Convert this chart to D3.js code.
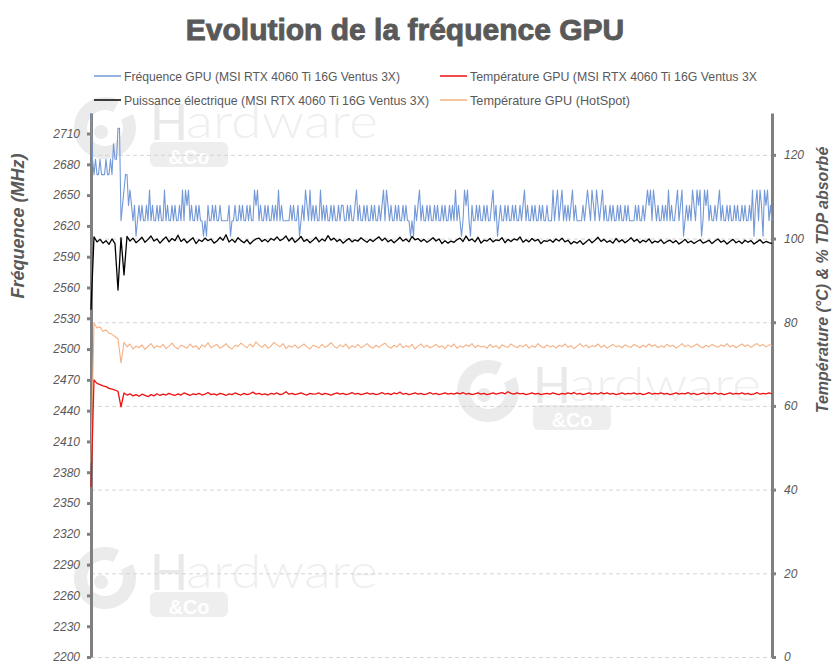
<!DOCTYPE html>
<html>
<head>
<meta charset="utf-8">
<script src="https://cdn.jsdelivr.net/npm/d3@7"></script>
<style>
  html, body { margin: 0; padding: 0; background: #fff; }
  svg { display: block; }
</style>
</head>
<body>
<svg id="chart" width="836" height="670"></svg>
<script>
// ---------------- DATA ----------------
const chartTitle = "Evolution de la fréquence GPU";
const leftAxisTitle = "Fréquence (MHz)";
const rightAxisTitle = "Température (°C) & % TDP absorbé";

const seriesNames = [
  "Fréquence GPU (MSI RTX 4060 Ti 16G Ventus 3X)",
  "Température GPU (MSI RTX 4060 Ti 16G Ventus 3X",
  "Puissance électrique (MSI RTX 4060 Ti 16G Ventus 3X)",
  "Température GPU (HotSpot)"
];

const leftTicks = [2200,2230,2260,2290,2320,2350,2380,2410,2440,2470,2500,2530,2560,2590,2620,2650,2680,2710];
const rightTicks = [0,20,40,60,80,100,120];

// Fréquence GPU (MHz) - left axis (sampled twice as often as the other series)
const freqGPU = [
  2730,2685,2670,2685,2670,2670,2685,2670,2670,2670,2685,2670,2670,2685,2670,2700,
  2685,2685,2715,2715,2625,2640,2655,2670,2670,2640,2655,2640,2625,2640,2610,2625,
  2640,2625,2640,2625,2625,2640,2625,2655,2625,2640,2625,2625,2640,2625,2640,2625,
  2625,2655,2625,2640,2625,2625,2640,2625,2640,2625,2625,2640,2625,2655,2625,2655,
  2640,2655,2625,2640,2625,2625,2640,2625,2640,2625,2625,2610,2625,2610,2640,2625,
  2625,2640,2625,2640,2625,2625,2640,2625,2625,2625,2625,2625,2640,2610,2625,2625,
  2640,2625,2625,2640,2625,2640,2625,2625,2640,2625,2640,2625,2625,2655,2640,2655,
  2625,2640,2625,2625,2640,2625,2640,2625,2625,2640,2625,2640,2625,2655,2625,2640,
  2625,2625,2625,2625,2625,2640,2625,2640,2625,2625,2640,2610,2625,2640,2625,2655,
  2640,2625,2655,2625,2640,2625,2640,2625,2625,2655,2625,2640,2625,2640,2625,2625,
  2640,2625,2640,2625,2625,2640,2625,2640,2640,2625,2625,2640,2625,2640,2625,2625,
  2640,2655,2625,2640,2625,2625,2640,2625,2640,2625,2625,2640,2625,2640,2625,2625,
  2640,2625,2640,2655,2625,2655,2640,2625,2640,2625,2625,2640,2625,2640,2625,2625,
  2640,2625,2640,2625,2625,2610,2625,2610,2640,2625,2640,2655,2625,2640,2625,2625,
  2640,2625,2640,2625,2625,2640,2625,2640,2625,2625,2640,2625,2640,2625,2625,2640,
  2625,2640,2625,2655,2625,2640,2625,2610,2625,2655,2640,2655,2625,2610,2640,2625,
  2625,2640,2625,2640,2625,2625,2640,2625,2640,2625,2625,2640,2655,2625,2640,2610,
  2625,2640,2625,2625,2640,2625,2640,2625,2625,2640,2625,2640,2625,2625,2640,2625,
  2640,2655,2625,2640,2625,2625,2640,2625,2640,2625,2625,2640,2625,2640,2625,2625,
  2640,2625,2625,2625,2655,2625,2640,2655,2625,2640,2655,2625,2640,2625,2640,2625,
  2640,2655,2625,2640,2625,2625,2625,2625,2640,2625,2640,2655,2640,2625,2655,2640,
  2625,2655,2640,2625,2640,2655,2625,2640,2625,2625,2640,2625,2640,2625,2625,2640,
  2625,2640,2625,2625,2640,2625,2640,2625,2625,2625,2625,2640,2625,2640,2625,2625,
  2640,2625,2640,2655,2640,2655,2625,2655,2640,2625,2640,2625,2625,2640,2625,2640,
  2625,2655,2625,2640,2625,2625,2640,2655,2625,2640,2655,2610,2625,2640,2625,2640,
  2625,2655,2640,2625,2655,2640,2655,2610,2625,2655,2640,2655,2625,2640,2625,2625,
  2640,2625,2640,2655,2625,2640,2625,2625,2640,2625,2640,2625,2625,2640,2625,2640,
  2625,2625,2640,2625,2640,2625,2625,2640,2625,2655,2610,2640,2655,2625,2655,2640,
  2610,2655,2640,2655,2625,2640,2625
];

// Température GPU (°C) - right axis
const tempGPU = [
  40.6,66.2,65.4,65.1,64.8,64.6,64.2,64.0,63.8,63.5,59.8,63.1,
  62.6,62.9,62.4,62.7,62.3,62.8,62.5,62.2,62.7,62.4,62.9,62.5,
  62.8,62.6,63.0,62.7,62.5,62.9,62.6,63.1,62.8,62.5,62.9,62.7,
  63.0,62.6,62.8,63.2,62.7,62.9,62.6,63.0,62.8,62.5,62.9,62.7,
  63.1,62.8,62.6,63.0,62.7,62.9,63.3,62.8,63.0,62.7,62.9,62.6,
  63.0,62.8,63.1,62.7,62.9,63.4,62.8,63.0,62.7,62.9,63.1,62.8,
  62.6,63.0,62.8,62.9,63.1,62.7,63.0,62.8,62.6,62.9,63.1,62.8,
  63.0,62.7,62.9,63.2,62.8,63.0,62.7,62.9,63.1,62.8,63.0,62.7,
  62.9,63.2,62.8,63.0,62.7,63.1,62.9,63.3,62.8,63.0,62.7,62.9,
  63.1,62.8,63.0,62.7,62.9,63.2,62.8,63.0,62.7,62.9,63.1,62.8,
  63.0,62.8,63.1,62.9,63.2,62.8,63.0,62.7,62.9,63.1,62.8,63.0,
  62.7,62.9,63.1,62.8,63.0,63.2,62.9,63.4,63.0,62.8,63.1,62.9,
  63.0,62.7,62.9,63.1,62.8,63.0,62.7,62.9,63.0,62.8,63.1,62.9,
  62.7,63.0,62.8,63.1,62.9,63.2,62.8,63.0,62.7,62.9,63.1,62.8,
  63.0,62.8,63.2,62.9,63.1,62.8,63.0,62.7,62.9,63.1,62.8,63.0,
  62.9,63.1,62.8,63.0,62.7,62.9,63.2,62.8,63.0,62.9,63.1,62.8,
  63.0,62.7,62.9,63.1,62.8,63.0,62.9,63.2,62.8,63.0,62.7,62.9,
  63.1,62.8,63.0,62.9,63.2,62.8,63.0,62.7,62.9,63.1,62.8,63.0,
  62.9,63.1,62.8,63.0,62.7,62.9,63.2,62.8,63.0,62.9,63.1,62.9
];

// Puissance électrique (% TDP) - right axis
const powerTDP = [
  83.0,100.4,99.2,99.8,98.9,99.5,98.6,99.9,98.8,87.7,100.2,91.3,
  100.5,99.4,100.1,99.0,99.6,100.3,99.1,99.8,100.6,99.4,99.9,98.9,
  99.7,100.4,99.2,100.0,99.5,100.8,99.3,99.9,99.0,99.6,100.2,98.8,
  99.7,99.3,100.1,99.5,99.9,98.9,99.4,100.3,99.6,100.9,99.2,99.8,
  99.1,100.2,99.5,99.0,99.7,98.7,99.4,99.9,100.1,99.3,99.8,99.2,
  100.0,99.6,100.4,99.5,99.9,100.6,99.4,100.2,99.1,99.7,100.5,99.3,
  99.8,99.0,99.6,100.3,99.2,99.9,99.4,100.7,99.6,100.1,99.3,99.8,
  98.9,99.5,100.0,99.2,99.7,99.4,100.2,99.6,99.1,99.8,99.3,99.9,
  100.4,99.5,100.1,99.2,99.7,99.0,99.6,100.3,99.4,99.9,99.2,100.5,
  99.7,100.0,99.3,99.8,99.1,99.6,100.2,99.4,99.9,98.8,99.5,98.9,
  99.4,99.1,99.7,100.1,99.3,100.6,99.5,99.9,99.2,100.3,98.9,99.6,
  99.4,100.0,99.2,99.7,99.5,100.2,99.0,99.8,99.3,99.9,99.6,100.4,
  99.1,99.7,99.2,100.0,99.4,99.8,98.8,99.5,99.3,99.7,99.1,99.9,
  99.4,100.1,99.2,99.6,98.7,99.3,98.9,99.5,98.6,99.2,99.8,99.0,
  99.6,100.3,99.3,99.8,99.1,99.5,98.9,100.0,99.2,99.7,99.0,99.5,
  100.2,99.3,99.8,99.0,99.6,99.2,99.9,98.9,99.4,99.1,99.7,98.8,
  99.3,99.6,99.0,99.5,98.7,99.2,99.8,99.0,99.4,98.8,99.3,99.7,
  98.9,99.2,99.6,98.8,99.4,99.9,99.1,99.5,98.7,99.3,99.8,99.0,
  99.4,98.8,99.6,99.1,99.5,98.7,99.2,99.7,98.9,99.3,99.0,98.8
];

// Température GPU HotSpot (°C) - right axis
const tempHotSpot = [
  46.4,79.8,78.6,78.9,77.8,78.2,77.4,77.1,76.6,76.0,70.3,75.2,
  74.1,74.8,73.6,74.3,73.9,74.6,73.5,74.2,74.9,73.8,74.4,74.0,
  74.7,73.7,74.3,75.0,74.1,73.6,74.5,74.2,73.8,74.8,74.0,74.4,
  73.5,74.6,74.1,75.1,73.9,74.3,74.7,73.8,74.2,74.9,74.0,73.6,
  74.5,74.2,75.0,74.4,73.9,74.8,74.1,75.3,74.5,74.0,74.7,73.8,
  74.3,75.2,74.6,74.1,74.9,73.7,74.4,74.0,74.6,73.8,74.3,74.8,
  74.1,73.6,74.5,74.2,73.9,74.7,74.0,74.4,75.1,74.3,73.8,74.6,
  74.1,74.8,73.7,74.4,74.0,74.7,73.9,74.3,74.9,74.2,73.8,74.5,
  74.0,74.6,75.0,74.2,73.8,74.5,74.1,74.9,73.9,74.4,74.0,74.7,
  73.6,74.3,74.8,74.0,74.5,73.9,74.2,74.7,74.0,74.4,73.7,74.6,
  74.1,74.8,73.8,74.3,74.0,74.6,74.2,74.9,73.9,74.5,74.1,74.3,
  73.8,74.7,74.0,74.4,73.7,74.6,74.2,74.0,74.8,74.3,73.9,74.5,
  74.1,74.7,73.8,74.4,74.0,74.9,74.2,73.9,74.6,74.1,74.4,73.8,
  74.5,74.2,74.8,74.0,74.4,73.7,74.3,74.9,74.1,74.6,73.9,74.4,
  74.2,74.8,74.0,74.5,73.8,74.3,74.7,74.1,74.4,73.9,74.6,74.2,
  74.0,74.7,74.3,73.9,74.5,74.1,74.8,74.2,74.6,73.9,74.4,74.0,
  74.7,74.2,74.5,73.8,74.3,74.9,74.1,74.6,74.0,74.4,74.8,74.2,
  73.9,74.5,74.1,74.7,74.3,74.0,74.6,74.2,74.9,74.1,74.5,73.9,
  74.4,74.8,74.2,74.6,74.0,74.5,74.9,74.3,74.7,74.1,74.6,74.4
];

// ---------------- CHART ----------------
const svg = d3.select("#chart");
const W = 836, H = 670;
const plot = { left: 91, right: 772, top: 113, bottom: 657 };
const textGray = "#595959";
const axisGray = "#808080";

svg.append("rect").attr("width", W).attr("height", H).attr("fill", "#fff");

// time position (0 = start, 1 = end of the run), each series spread over the whole run
const x = d3.scaleLinear().domain([0, 1]).range([plot.left, plot.right]);
const yL = d3.scaleLinear().domain([2200, 2730]).range([plot.bottom, plot.top]);
const yR = d3.scaleLinear().domain([0, 130]).range([plot.bottom, plot.top]);

// watermark logos (background decoration)
function logo(hx, base) {
  const g = svg.append("g").attr("class", "watermark");
  const cx = hx - 45, cy = base - 12, r = 31;
  const arc = d3.arc().innerRadius(r - 13).outerRadius(r).startAngle(0.35 * Math.PI).endAngle(2.15 * Math.PI);
  g.append("path").attr("d", arc()).attr("transform", `translate(${cx},${cy})`).attr("fill", "#ebebeb");
  g.append("circle").attr("cx", cx - 4).attr("cy", cy + 4).attr("r", 7).attr("fill", "#ebebeb");
  g.append("text").attr("x", hx).attr("y", base).text("H")
    .attr("font-family", "Lato, 'Open Sans', sans-serif").attr("font-weight", 400)
    .attr("font-size", 50).attr("fill", "#e9e9e9");
  g.append("text").attr("x", hx + 36).attr("y", base - 2).text("ardware")
    .attr("font-family", "Lato, 'Open Sans', sans-serif").attr("font-weight", 300)
    .attr("font-size", 48).attr("textLength", 192).attr("lengthAdjust", "spacingAndGlyphs")
    .attr("fill", "#efefef");
  g.append("rect").attr("x", hx).attr("y", base + 2).attr("width", 78).attr("height", 25)
    .attr("rx", 6).attr("fill", "#eeeeee");
  g.append("text").attr("x", hx + 39).attr("y", base + 24).attr("text-anchor", "middle").text("&Co")
    .attr("font-family", "'Liberation Sans', sans-serif").attr("font-weight", 700)
    .attr("font-size", 20).attr("fill", "#fff");
}
logo(150, 140);
logo(533, 403);
logo(150, 590);

// gridlines (right axis)
svg.append("g").selectAll("line").data(rightTicks).join("line")
  .attr("x1", plot.left).attr("x2", plot.right)
  .attr("y1", d => yR(d) + 0.5).attr("y2", d => yR(d) + 0.5)
  .attr("stroke", "#d4d4d4").attr("stroke-width", 1).attr("stroke-dasharray", "4,3");

// left axis
const axL = svg.append("g").attr("transform", `translate(${plot.left},0)`)
  .call(d3.axisLeft(yL).tickValues(leftTicks).tickSize(4).tickSizeOuter(0).tickPadding(7).tickFormat(d3.format("d")));
axL.select(".domain").attr("stroke", axisGray).attr("stroke-width", 3);
axL.selectAll(".tick line").attr("stroke", axisGray).attr("stroke-width", 3);
axL.selectAll(".tick text").attr("fill", textGray).attr("font-style", "italic")
  .attr("font-family", "'Liberation Sans', Arial, sans-serif").attr("font-size", 12);

// right axis
const axR = svg.append("g").attr("transform", `translate(${plot.right},0)`)
  .call(d3.axisRight(yR).tickValues(rightTicks).tickSize(4).tickSizeOuter(0).tickPadding(8));
axR.select(".domain").attr("stroke", axisGray).attr("stroke-width", 3);
axR.selectAll(".tick line").attr("stroke", axisGray).attr("stroke-width", 3);
axR.selectAll(".tick text").attr("fill", textGray).attr("font-style", "italic")
  .attr("font-family", "'Liberation Sans', Arial, sans-serif").attr("font-size", 12);

// series
function lineFor(yScale, n) {
  return d3.line().x((d, i) => x(i / (n - 1))).y(d => yScale(d));
}
const series = [
  { data: tempHotSpot, y: yR, color: "#f4b183", width: 1.1 },
  { data: tempGPU, y: yR, color: "#ee1111", width: 1.3 },
  { data: powerTDP, y: yR, color: "#000000", width: 1.3 },
  { data: freqGPU, y: yL, color: "#7399d8", width: 1.1 }
];
series.forEach(s => {
  svg.append("path").attr("d", lineFor(s.y, s.data.length)(s.data)).attr("fill", "none")
    .attr("stroke", s.color).attr("stroke-width", s.width).attr("stroke-linejoin", "round");
});

// title
svg.append("text").attr("x", 405).attr("y", 40).attr("text-anchor", "middle")
  .attr("font-family", "'Liberation Sans', Arial, sans-serif").attr("font-weight", 700)
  .attr("font-size", 30).attr("fill", textGray).attr("stroke", textGray).attr("stroke-width", 0.9)
  .text(chartTitle);

// axis titles
svg.append("text").attr("transform", "translate(24,226) rotate(-90)").attr("text-anchor", "middle")
  .attr("font-family", "'Liberation Sans', Arial, sans-serif").attr("font-weight", 700).attr("font-style", "italic")
  .attr("font-size", 18).attr("fill", textGray).text(leftAxisTitle);
svg.append("text").attr("transform", "translate(828,280) rotate(-90)").attr("text-anchor", "middle")
  .attr("font-family", "'Liberation Sans', Arial, sans-serif").attr("font-weight", 700).attr("font-style", "italic")
  .attr("font-size", 16).attr("fill", textGray).text(rightAxisTitle);

// legend
const legendColors = ["#7399d8", "#ee1111", "#000000", "#f4b183"];
const legendPos = [
  { lx: 94, ly: 76, tw: 276 },
  { lx: 440, ly: 76, tw: 287 },
  { lx: 94, ly: 100, tw: 305 },
  { lx: 440, ly: 100, tw: 160 }
];
seriesNames.forEach((name, i) => {
  const p = legendPos[i];
  svg.append("line").attr("x1", p.lx).attr("x2", p.lx + 27).attr("y1", p.ly).attr("y2", p.ly)
    .attr("stroke", legendColors[i]).attr("stroke-width", 1.5);
  svg.append("text").attr("x", p.lx + 30).attr("y", p.ly + 4.5)
    .attr("font-family", "'Liberation Sans Narrow', 'Liberation Sans', Arial, sans-serif")
    .attr("font-size", 13).attr("fill", textGray)
    .attr("textLength", p.tw).attr("lengthAdjust", "spacingAndGlyphs")
    .text(name);
});
</script>
</body>
</html>
